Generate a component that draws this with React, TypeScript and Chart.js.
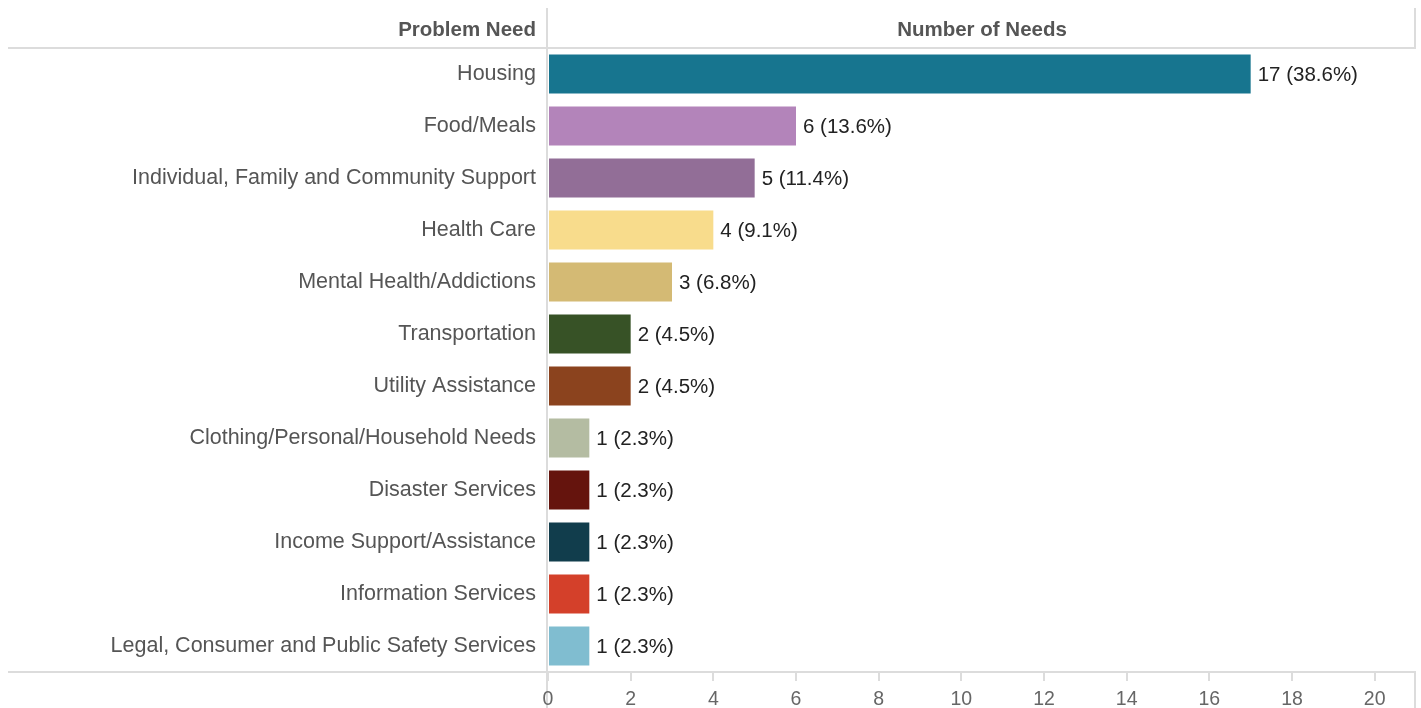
import React, { useEffect, useRef } from "react";
import { Chart, registerables } from "chart.js";

Chart.register(...registerables);

const categories = [
  "Housing",
  "Food/Meals",
  "Individual, Family and Community Support",
  "Health Care",
  "Mental Health/Addictions",
  "Transportation",
  "Utility Assistance",
  "Clothing/Personal/Household Needs",
  "Disaster Services",
  "Income Support/Assistance",
  "Information Services",
  "Legal, Consumer and Public Safety Services",
];

const needCounts = [17, 6, 5, 4, 3, 2, 2, 1, 1, 1, 1, 1];

const barColors = [
  "#17758f",
  "#b384ba",
  "#926e97",
  "#f8dc8c",
  "#d4ba74",
  "#375226",
  "#8b431e",
  "#b4bca2",
  "#65140d",
  "#113d4c",
  "#d4402a",
  "#80bdd0",
];

const xTickValues = [0, 2, 4, 6, 8, 10, 12, 14, 16, 18, 20];
const headerLeft = "Problem Need";
const headerRight = "Number of Needs";

const W = 1421;
const H = 708;
const PLOT_LEFT = 548;
const PLOT_RIGHT = 1416;
const PLOT_TOP = 48;
const PLOT_BOTTOM = 672;
const LINE = "#dcdcdc";
const FONT = "'Liberation Sans', Arial, Helvetica, sans-serif";

export default function App() {
  const ref = useRef<HTMLCanvasElement | null>(null);

  useEffect(() => {
    const canvas = ref.current;
    if (!canvas) return;
    const total = needCounts.reduce((a, b) => a + b, 0);

    const framePlugin = {
      id: "frame",
      beforeDraw(chart: any) {
        const ctx = chart.ctx;
        ctx.save();
        ctx.fillStyle = "#ffffff";
        ctx.fillRect(0, 0, W, H);
        ctx.strokeStyle = LINE;
        ctx.lineWidth = 2;
        ctx.beginPath();
        ctx.moveTo(8, PLOT_TOP);
        ctx.lineTo(PLOT_RIGHT, PLOT_TOP);
        ctx.moveTo(8, PLOT_BOTTOM);
        ctx.lineTo(PLOT_RIGHT, PLOT_BOTTOM);
        ctx.stroke();
        ctx.beginPath();
        ctx.lineWidth = 2;
        ctx.moveTo(PLOT_LEFT - 1, 8);
        ctx.lineTo(PLOT_LEFT - 1, H);
        ctx.moveTo(PLOT_RIGHT - 1, 8);
        ctx.lineTo(PLOT_RIGHT - 1, PLOT_TOP);
        ctx.moveTo(PLOT_RIGHT - 1, PLOT_BOTTOM);
        ctx.lineTo(PLOT_RIGHT - 1, H);
        ctx.stroke();
        ctx.fillStyle = "#555555";
        ctx.font = `bold 20.5px ${FONT}`;
        ctx.textBaseline = "middle";
        ctx.textAlign = "right";
        ctx.fillText(headerLeft, 536, 30);
        ctx.textAlign = "center";
        ctx.fillText(headerRight, (PLOT_LEFT + PLOT_RIGHT) / 2, 30);
        ctx.restore();
      },
      afterDatasetsDraw(chart: any) {
        const ctx = chart.ctx;
        const meta = chart.getDatasetMeta(0);
        ctx.save();
        ctx.fillStyle = "#222222";
        ctx.font = `20.5px ${FONT}`;
        ctx.textAlign = "left";
        ctx.textBaseline = "middle";
        meta.data.forEach((bar: any, i: number) => {
          const v = needCounts[i];
          const pct = ((v / total) * 100).toFixed(1);
          ctx.fillText(`${v} (${pct}%)`, bar.x + 7, bar.y + 1);
        });
        ctx.restore();
      },
    };

    const chart = new Chart(canvas, {
      type: "bar",
      data: {
        labels: categories,
        datasets: [
          {
            data: needCounts,
            backgroundColor: barColors,
            borderWidth: 0,
            categoryPercentage: 1,
            barPercentage: 0.75,
          },
        ],
      },
      options: {
        indexAxis: "y",
        animation: false,
        responsive: false,
        maintainAspectRatio: false,
        devicePixelRatio: 1,
        layout: { padding: { top: PLOT_TOP, right: W - PLOT_RIGHT, left: 0, bottom: 0 } },
        plugins: { legend: { display: false }, tooltip: { enabled: false } },
        scales: {
          x: {
            type: "linear",
            min: 0,
            max: 21,
            afterFit(scale: any) {
              scale.height = H - PLOT_BOTTOM;
            },
            afterBuildTicks(scale: any) {
              scale.ticks = xTickValues.map((v) => ({ value: v }));
            },
            grid: {
              drawOnChartArea: false,
              drawTicks: true,
              tickLength: 9,
              color: LINE,
              lineWidth: 2,
            },
            border: { display: false },
            ticks: {
              color: "#666666",
              padding: 7,
              font: { family: FONT, size: 19.5 },
              maxRotation: 0,
            },
          },
          y: {
            afterFit(scale: any) {
              scale.width = PLOT_LEFT;
            },
            grid: { display: false, drawTicks: false },
            border: { display: false },
            ticks: {
              color: "#555555",
              padding: 12,
              font: { family: FONT, size: 21.5 },
              autoSkip: false,
            },
          },
        },
      },
      plugins: [framePlugin],
    } as any);

    return () => chart.destroy();
  }, []);

  return (
    <div style={{ position: "fixed", left: 0, top: 0, width: W, height: H, background: "#fff" }}>
      <canvas ref={ref} width={W} height={H} style={{ width: W, height: H, display: "block" }} />
    </div>
  );
}
